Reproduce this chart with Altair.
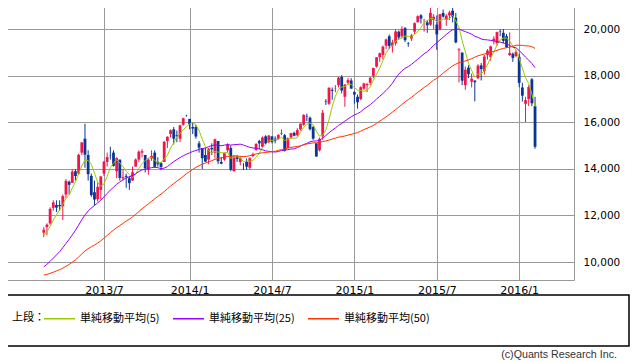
import altair as alt
import pandas as pd

# weekly closes before the first drawn candle (needed only for the moving averages)
pre_close = [10130, 10011, 10083, 9688, 9637, 9561, 9520, 9380, 8953, 8611, 8580,
             8440, 8460, 8721, 8798, 9007, 9020, 8725, 8670, 8566, 8555, 8891,
             9162, 9070, 8839, 8871, 9159, 9110, 8870, 8863, 8534, 9002, 8933,
             9051, 8757, 9024, 9366, 9446, 9527, 9737, 9940, 10395, 10688, 10801,
             10913, 10926, 11191, 11153, 11173]

# weekly candles, 2013-02-18 .. 2016-02-08
open_ = [11260, 11500, 11660, 12330, 12450, 12450, 12400, 12900, 13450, 13400, 13900, 13800,
         14700, 15300, 14600, 13700, 13000, 12700, 13100, 13800, 14300, 14600, 14700, 13900,
         14400, 13600, 13700, 13600, 13500, 14100, 14400, 14700, 14600, 13950, 14450, 14700,
         14300, 14250, 14300, 15200, 15500, 15700, 15450, 15300, 15900, 16300,
         16150, 15800, 15800, 15100, 14900, 14600, 14400, 14900, 14700, 15200, 14300, 14400,
         14800, 14900, 13900, 14500, 14300, 14200, 14300, 14050, 14550, 14800, 15200, 14950,
         15400, 15150, 15400, 15300, 15300, 15500, 15450, 14900, 15350, 15550, 15450, 15700,
         15900, 16250, 16200, 15800, 15100, 14800, 15400, 16900, 16800, 17400, 17450, 17600,
         17950, 17100, 17700, 17800,
         17300, 17100, 17000, 17450, 17600, 17700, 18000, 18400, 18800, 18900, 19300, 19700,
         19300, 19400, 19900, 19700, 20050, 19400, 19600, 19900, 20300, 20600, 20400, 20300,
         20200, 20400, 20200, 20000, 20700, 20400, 20600, 20800, 20500, 19100, 19000, 17600,
         18350, 17750, 17800, 17900, 18450, 18200, 18900, 18800, 19500, 19400, 19900, 19850,
         19700, 18900, 18950, 18850,
         18818, 17500, 16800, 17000, 17850, 16700]
high = [11500, 11662, 12349, 12650, 12650, 12650, 12900, 13568, 13500, 13980, 14000, 14650,
        15156, 15942, 14800, 13800, 13500, 13400, 13700, 14350, 14700, 14950, 14800, 14500,
        14400, 14000, 13800, 13700, 14100, 14450, 14800, 14850, 14600, 14450, 14800, 14800,
        14500, 14300, 15200, 15400, 15700, 15800, 15650, 15900, 16200, 16320,
        16150, 16000, 15900, 15200, 14900, 14900, 14900, 15100, 15300, 15200, 14500, 14700,
        15100, 15000, 14600, 14600, 14550, 14250, 14450, 14500, 14700, 15100, 15250, 15400,
        15450, 15450, 15400, 15400, 15500, 15700, 15500, 15350, 15550, 15600, 15750, 15950,
        16350, 16375, 16250, 15850, 15100, 15350, 16533, 17000, 17500, 17500, 17600, 17950,
        18030, 17650, 17900, 17900,
        17350, 17200, 17550, 17700, 17700, 17950, 18350, 18800, 19000, 19300, 19600, 19778,
        19550, 20006, 19950, 20133, 20100, 19450, 19800, 20300, 20600, 20655, 20450, 20400,
        20952, 20650, 20600, 20650, 20850, 20650, 20800, 20946, 20700, 19200, 19000, 18400,
        18450, 18100, 17800, 18500, 18550, 18900, 19150, 19300, 19700, 19900, 20000, 20012,
        19800, 19870, 19000, 19100,
        18951, 17700, 17100, 17600, 17905, 17100]
low = [11070, 11150, 11600, 12200, 12150, 12200, 11805, 12750, 12900, 13400, 13500, 13750,
       14600, 14050, 13500, 12800, 12415, 12600, 12700, 13700, 14100, 14400, 14100, 13600,
       13500, 13500, 13188, 13100, 13500, 14100, 14300, 14500, 13850, 13750, 14350, 14050,
       14100, 13950, 14300, 14900, 15350, 15050, 15150, 15150, 15850, 16250,
       15700, 15500, 15300, 14700, 13995, 14300, 14200, 14600, 14450, 14200, 14200, 14350,
       14700, 13900, 13885, 14300, 14150, 13950, 13960, 13960, 14500, 14800, 14850, 14900,
       15050, 15100, 15100, 15100, 15250, 15450, 14750, 14900, 15300, 15400, 15400, 15650,
       15850, 16050, 15650, 15250, 14530, 14750, 15250, 16750, 16750, 16970, 17300, 17500,
       17250, 16670, 17600, 17450,
       16800, 16590, 16950, 17400, 17300, 17600, 17900, 18350, 18600, 18700, 19150, 19150,
       19000, 19300, 19550, 19600, 19450, 19250, 19500, 19800, 20300, 20250, 19900, 19850,
       20150, 20000, 19115, 19950, 20500, 20150, 20400, 20300, 19400, 17714, 17600, 17400,
       17900, 17500, 16901, 17850, 17800, 18050, 18700, 18650, 19350, 19300, 19700, 19400,
       19200, 18850, 18600, 18800,
       17509, 16900, 16017, 16700, 16700, 14865]
close = [11385, 11606, 12283, 12560, 12338, 12397, 12833, 13485, 13316, 13884, 13694, 14607,
         15138, 14612, 13774, 12877, 12686, 13230, 13677, 14309, 14506, 14589, 14130, 14466,
         13615, 13650, 13660, 13389, 13860, 14404, 14742, 14760, 14024, 14404, 14561, 14088,
         14201, 14086, 15165, 15381, 15662, 15299, 15403, 15870, 16178, 16291,
         15912, 15734, 15391, 14914, 14462, 14313, 14865, 14841, 15274, 14327, 14224, 14696,
         15063, 13960, 14516, 14429, 14457, 14199, 14097, 14462, 14632, 15077, 15097, 15349,
         15095, 15437, 15164, 15215, 15457, 15523, 14778, 15318, 15539, 15425, 15669, 15948,
         16321, 16229, 15708, 15300, 14532, 15291, 16414, 16880, 17490, 17357, 17459, 17920,
         17371, 17621, 17818, 17450,
         17197, 16864, 17511, 17674, 17648, 17913, 18332, 18797, 18971, 19254, 19560, 19286,
         19435, 19908, 19653, 20020, 19531, 19379, 19733, 20264, 20563, 20461, 20407, 20174,
         20706, 20540, 19780, 20650, 20544, 20585, 20724, 20520, 19436, 19136, 17792, 18264,
         18070, 17880, 17725, 18438, 18291, 18826, 19083, 19265, 19597, 19880, 19883, 19504,
         19230, 18986, 18769, 19033,
         17698, 17147, 16958, 17518, 16819, 14952]

ma_keys = ["ma5", "ma25", "ma50"]
ma_windows = [5, 25, 50]
ma_labels = ["単純移動平均(5)", "単純移動平均(25)", "単純移動平均(50)"]
ma_colors = ["#99cc00", "#9900ff", "#ff3300"]
legend_title = "上段："
credit_text = "(c)Quants Research Inc."

y_ticks = [10000, 12000, 14000, 16000, 18000, 20000]
x_ticks = [(2013, 7, 1), (2014, 1, 6), (2014, 7, 7), (2015, 1, 5), (2015, 7, 6), (2016, 1, 4)]

UP = "#f0154a"
DOWN = "#0b3594"
CJK = "Noto Sans CJK JP"

n_pre = len(pre_close)
dates = pd.date_range("2012-03-12", periods=n_pre + len(close), freq="7D")
df = pd.DataFrame({
    "date": dates,
    "open": [None] * n_pre + open_,
    "high": [None] * n_pre + high,
    "low": [None] * n_pre + low,
    "close": pre_close + close,
})

xscale = alt.Scale(domain=[alt.DateTime(year=2012, month=12, date=1),
                           alt.DateTime(year=2016, month=4, date=23)])
yscale = alt.Scale(domain=[9227, 21302], zero=False, nice=False)

xaxis = alt.Axis(values=[alt.DateTime(year=a, month=b, date=c) for a, b, c in x_ticks],
                 labelExpr="year(datum.value) + '/' + (month(datum.value) + 1)",
                 title=None, ticks=False, domain=False, grid=True, labelPadding=4,
                 labelFontSize=11)
yaxis = alt.Axis(orient="right", values=y_ticks, format=",d", title=None, ticks=False,
                 domain=False, grid=True, labelPadding=9)

base = alt.Chart(df)
for k, w in zip(ma_keys, ma_windows):
    base = base.transform_window(frame=[-(w - 1), 0], sort=[alt.SortField("date")],
                                 **{k: "mean(close)"})
base = base.transform_filter("datum.open != null")

col = alt.condition("datum.close >= datum.open", alt.value(UP), alt.value(DOWN))

wicks = base.mark_rule(strokeWidth=1).encode(
    x=alt.X("date:T", scale=xscale, axis=xaxis),
    y=alt.Y("low:Q", scale=yscale, axis=yaxis),
    y2="high:Q",
    color=col,
)
bodies = base.mark_bar(size=2.8).encode(
    x=alt.X("date:T"),
    y=alt.Y("open:Q"),
    y2="close:Q",
    color=col,
)

label_expr = " : ".join(f"datum.key == '{k}' ? '{l}'" for k, l in zip(ma_keys[:-1], ma_labels[:-1])) \
    + f" : '{ma_labels[-1]}'"
lines = base.transform_fold(ma_keys, as_=["key", "value"]).transform_calculate(
    series=label_expr
).mark_line(strokeWidth=1).encode(
    x=alt.X("date:T"),
    y=alt.Y("value:Q"),
    color=alt.Color("series:N", scale=alt.Scale(domain=ma_labels, range=ma_colors),
                    legend=alt.Legend(orient="none", legendX=40, legendY=303,
                                      direction="horizontal", title=None,
                                      symbolType="stroke",
                                      symbolSize=961, symbolStrokeWidth=1.5,
                                      columnPadding=10, labelOffset=4, padding=0)),
    detail="series:N",
)

box = alt.Chart(alt.Data(values=[{"k": 1}])).mark_rect(
    filled=False, stroke="black", strokeWidth=1.5
).encode(x=alt.value(0), x2=alt.value(626), y=alt.value(296), y2=alt.value(347))

title_txt = alt.Chart(alt.Data(values=[{"t": legend_title}])).mark_text(
    align="left", baseline="middle", font=CJK, fontSize=11, color="#000000"
).encode(text="t:N", x=alt.value(9), y=alt.value(319))

credit = alt.Chart(alt.Data(values=[{"t": credit_text}])).mark_text(
    align="right", baseline="middle", font="Liberation Sans", fontSize=10.7,
    color="#333333"
).encode(text="t:N", x=alt.value(614), y=alt.value(356))

chart = alt.layer(wicks, bodies, lines, box, title_txt, credit).properties(
    width=571, height=281,
    padding={"left": -5, "top": -9, "right": 56, "bottom": 82},
    autosize=alt.AutoSizeParams(type="none"),
).configure_view(
    stroke="#999999", strokeWidth=1
).configure_axis(
    gridColor="#999999", gridWidth=1, gridOpacity=1,
    labelFont="DejaVu Sans", labelFontSize=10.5, labelColor="#000000",
).configure_legend(
    labelFont=CJK, labelFontSize=11, labelColor="#000000",
)

chart.save("out.html", embed_options={"renderer": "svg", "actions": False})
